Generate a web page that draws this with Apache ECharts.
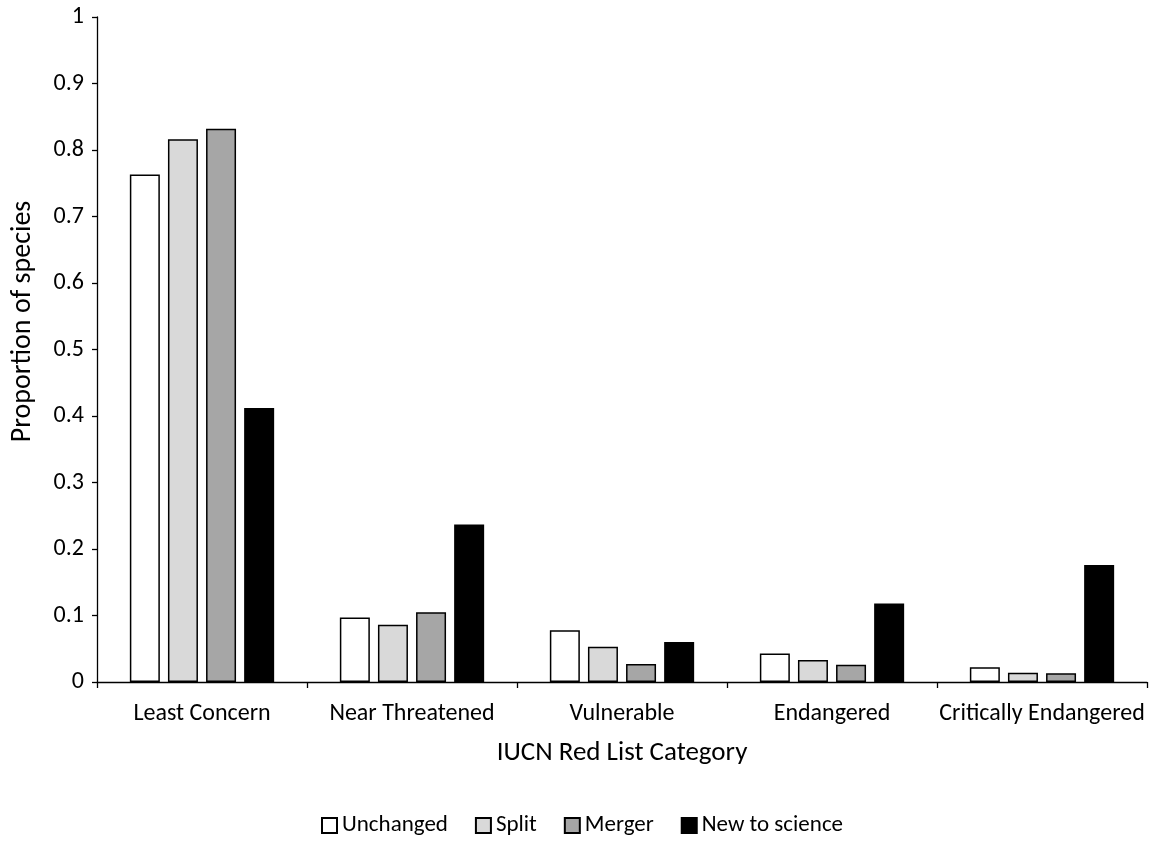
<!DOCTYPE html>
<html><head><meta charset="utf-8">
<script src="https://cdn.jsdelivr.net/npm/echarts@6/dist/echarts.min.js"></script>
<style>html,body{margin:0;padding:0;background:#fff}#c{width:1153px;height:841px}</style>
</head><body><div id="c"></div>
<script>
const categories = ['Least Concern','Near Threatened','Vulnerable','Endangered','Critically Endangered'];
const unchanged = [0.763, 0.097, 0.078, 0.043, 0.022];
const split = [0.816, 0.086, 0.053, 0.033, 0.014];
const merger = [0.832, 0.105, 0.027, 0.026, 0.013];
const newToScience = [0.412, 0.237, 0.060, 0.118, 0.176];
const seriesNames = ['Unchanged','Split','Merger','New to science'];
const seriesColors = ['#ffffff','#d9d9d9','#a6a6a6','#000000'];
const seriesData = [unchanged, split, merger, newToScience];

const FONT = 'Carlito, Lato, "Open Sans", sans-serif';
const chart = echarts.init(document.getElementById('c'), null, {renderer:'canvas'});
chart.setOption({
  animation:false,
  backgroundColor:'#fff',
  textStyle:{fontFamily:FONT},
  grid:{left:97, right:6, top:17, bottom:159, containLabel:false, outerBoundsMode:'none'},
  legend:{
    top:809, left:316,
    icon:'rect', itemWidth:15, itemHeight:15, itemGap:27,
    textStyle:{fontFamily:FONT, fontSize:23, color:'#000'},
    data:seriesNames
  },
  xAxis:{
    type:'category', data:categories,
    axisLine:{lineStyle:{color:'#000', width:1.3}},
    axisTick:{show:true, interval:0, length:6, lineStyle:{color:'#000', width:1.3}},
    axisLabel:{interval:0, fontFamily:FONT, fontSize:24, color:'#000', margin:20},
    name:'IUCN Red List Category', nameLocation:'middle', nameGap:58,
    nameTextStyle:{fontFamily:FONT, fontSize:27, color:'#000'}
  },
  yAxis:{
    type:'value', min:0, max:1, interval:0.1,
    axisLine:{show:true, lineStyle:{color:'#000', width:1.3}},
    axisTick:{show:true, length:5, lineStyle:{color:'#000', width:1.3}},
    splitLine:{show:false},
    axisLabel:{fontFamily:FONT, fontSize:24, color:'#000', margin:13,
      formatter:v=>String(Math.round(v*10)/10)},
    name:'Proportion of species', nameLocation:'middle', nameGap:60,
    nameTextStyle:{fontFamily:FONT, fontSize:28, color:'#000', padding:[0,0,0,56]}
  },
  series: seriesNames.map((n,i)=>({
    name:n, type:'bar', data:seriesData[i],
    barWidth:30, barGap:'27%',
    itemStyle:{color:seriesColors[i], borderColor:'#000', borderWidth:1.5}
  }))
});
</script></body></html>
